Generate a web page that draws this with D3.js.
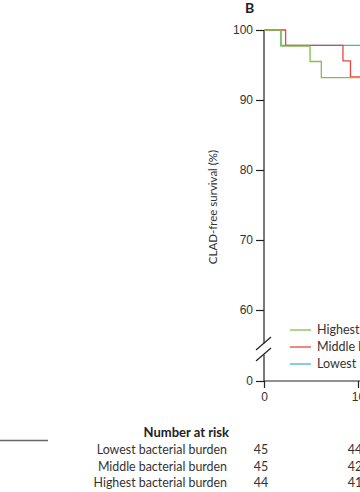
<!DOCTYPE html>
<html>
<head>
<meta charset="utf-8">
<script src="https://cdn.jsdelivr.net/npm/d3@7"></script>
<style>
  body { margin: 0; background: #fff; }
  svg { display: block; font-family: Lato, "Noto Sans", sans-serif; }
  .axis text { font-size: 12px; fill: #333; }
  .axis line, .axis path { stroke: #222; stroke-width: 1.2; }
</style>
</head>
<body>
<div id="chart-area"></div>
<script>
// Kaplan-Meier panel B: CLAD-free survival by bacterial burden

// months of each event and survival (%) after it
const groups = ['Lowest bacterial burden', 'Middle bacterial burden', 'Highest bacterial burden'];
const lowestTimes = [0, 1.8];
const lowestSurv = [100, 97.8];
const middleTimes = [0, 2.3, 8.4, 9.2];
const middleSurv = [100, 97.8, 95.6, 93.3];
const highestTimes = [0, 1.8, 4.9, 6.1];
const highestSurv = [100, 97.7, 95.5, 93.2];

const yTicks = [0, 60, 70, 80, 90, 100];
const xTicks = [0, 10];
const riskTimes = [0, 10];
const riskLowest = [45, 44];
const riskMiddle = [45, 42];
const riskHighest = [44, 41];

const legendOrder = ['Highest bacterial burden', 'Middle bacterial burden', 'Lowest bacterial burden'];
const colors = {
  'Lowest bacterial burden': '#3fb4d2',
  'Middle bacterial burden': '#e5463d',
  'Highest bacterial burden': '#82c04a'
};

const width = 360;
const height = 492;
const endTime = 12;

const svg = d3.select('#chart-area')
  .append('svg')
    .attr('width', width)
    .attr('height', height);

const x = d3.scaleLinear()
  .domain([0, 10])
  .range([264, 358]);

// broken axis: 0 sits below the break, 60-100 above it
const y = d3.scaleLinear()
  .domain([0, 60, 100])
  .range([381, 310, 30]);

// panel letter
svg.append('text')
  .attr('x', 245)
  .attr('y', 13)
  .attr('font-size', 14)
  .attr('font-weight', 'bold')
  .attr('fill', '#222')
  .text('B');

// y axis
const yAxis = svg.append('g')
  .attr('class', 'axis')
  .attr('transform', 'translate(' + x(0) + ',0)')
  .call(d3.axisLeft(y).tickValues(yTicks).tickSize(8).tickPadding(3));
yAxis.select('.domain').remove();

const breakTop = 343.5;
const breakBottom = 354.5;
svg.append('line')
  .attr('x1', x(0)).attr('x2', x(0))
  .attr('y1', y(100)).attr('y2', breakTop)
  .attr('stroke', '#222').attr('stroke-width', 1.2);
svg.append('line')
  .attr('x1', x(0)).attr('x2', x(0))
  .attr('y1', breakBottom).attr('y2', y(0))
  .attr('stroke', '#222').attr('stroke-width', 1.2);
[breakTop, breakBottom].forEach(cy => {
  svg.append('line')
    .attr('x1', x(0) - 8).attr('y1', cy + 6.5)
    .attr('x2', x(0) + 7).attr('y2', cy - 6.5)
    .attr('stroke', '#222').attr('stroke-width', 1.2);
});

svg.append('text')
  .attr('transform', 'translate(217,207) rotate(-90)')
  .attr('text-anchor', 'middle')
  .attr('font-size', 11.5)
  .attr('fill', '#333')
  .text('CLAD-free survival (%)');

// x axis
const xAxis = svg.append('g')
  .attr('class', 'axis')
  .attr('transform', 'translate(0,' + y(0) + ')')
  .call(d3.axisBottom(x).tickValues(xTicks).tickSize(7).tickPadding(4).tickSizeOuter(0));
xAxis.select('.domain')
  .attr('d', 'M' + x(0) + ',0H' + width);

// survival curves
const series = [
  { name: 'Lowest bacterial burden', times: lowestTimes, surv: lowestSurv },
  { name: 'Middle bacterial burden', times: middleTimes, surv: middleSurv },
  { name: 'Highest bacterial burden', times: highestTimes, surv: highestSurv }
];

const line = d3.line()
  .x(d => x(d.t))
  .y(d => y(d.s))
  .curve(d3.curveStepAfter);

series.forEach(sr => {
  const pts = sr.times.map((t, i) => ({ t: t, s: sr.surv[i] }));
  pts.push({ t: endTime, s: sr.surv[sr.surv.length - 1] });
  svg.append('path')
    .datum(pts)
    .attr('fill', 'none')
    .attr('stroke', colors[sr.name])
    .attr('stroke-width', 1.3)
    .attr('d', line);
});

// legend
const legend = svg.append('g')
  .attr('transform', 'translate(290,330)');
legendOrder.forEach((name, i) => {
  const row = legend.append('g').attr('transform', 'translate(0,' + (i * 17) + ')');
  row.append('line')
    .attr('x1', 0).attr('x2', 21)
    .attr('stroke', colors[name])
    .attr('stroke-width', 1.3);
  row.append('text')
    .attr('x', 27)
    .attr('dy', '0.35em')
    .attr('font-size', 12.5)
    .attr('fill', '#333')
    .text(name);
});

// number at risk table
svg.append('line')
  .attr('x1', 0).attr('x2', 48)
  .attr('y1', 440.5).attr('y2', 440.5)
  .attr('stroke', '#666').attr('stroke-width', 1.5);

svg.append('text')
  .attr('x', 229)
  .attr('y', 437)
  .attr('text-anchor', 'end')
  .attr('font-size', 13)
  .attr('font-weight', 'bold')
  .attr('fill', '#222')
  .text('Number at risk');

const riskRows = [
  { name: 'Lowest bacterial burden', vals: riskLowest },
  { name: 'Middle bacterial burden', vals: riskMiddle },
  { name: 'Highest bacterial burden', vals: riskHighest }
];

riskRows.forEach((r, i) => {
  const yy = 454 + i * 16.5;
  svg.append('text')
    .attr('x', 227)
    .attr('y', yy)
    .attr('text-anchor', 'end')
    .attr('font-size', 12.4)
    .attr('fill', '#333')
    .text(r.name);
  svg.selectAll(null)
    .data(r.vals)
    .enter()
    .append('text')
      .attr('x', (d, j) => x(riskTimes[j]) - 3)
      .attr('y', yy)
      .attr('text-anchor', 'middle')
      .attr('font-size', 12.4)
      .attr('fill', '#333')
      .text(d => d);
});
</script>
</body>
</html>
